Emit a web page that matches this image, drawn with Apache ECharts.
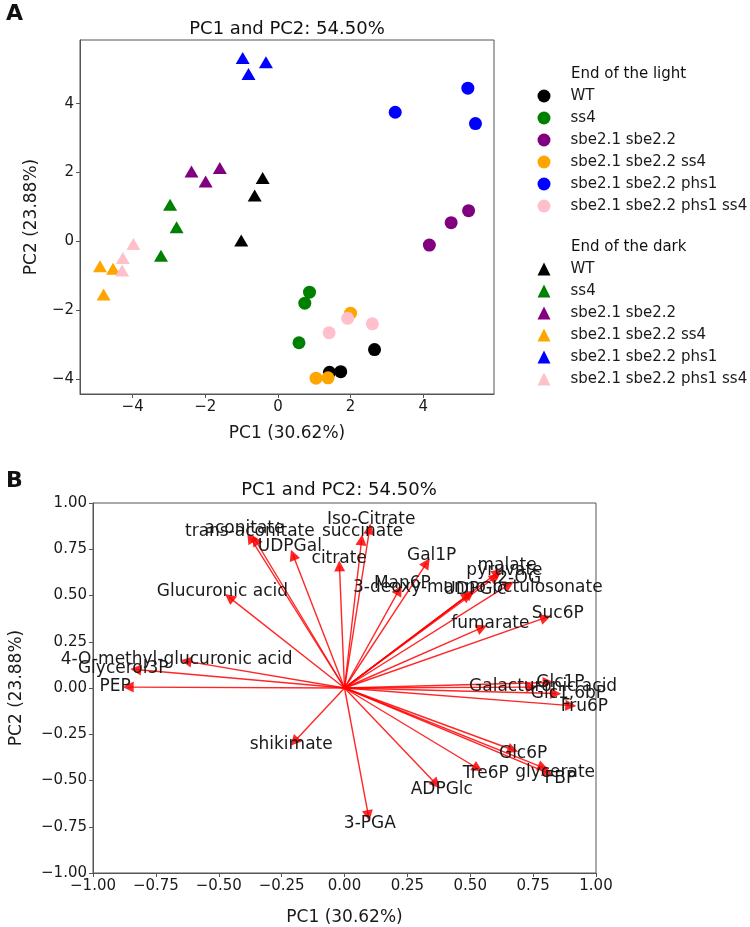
<!DOCTYPE html>
<html>
<head>
<meta charset="utf-8">
<script src="https://cdn.jsdelivr.net/npm/echarts@6/dist/echarts.min.js"></script>
<style>
html, body { margin: 0; padding: 0; background: #fff; }
#main { width: 750px; height: 927px; }
</style>
</head>
<body>
<div id="main"></div>
<script>
// panel A: PCA scores, 3 replicates per genotype
var genotypes = ['WT', 'ss4', 'sbe2.1 sbe2.2', 'sbe2.1 sbe2.2 ss4', 'sbe2.1 sbe2.2 phs1', 'sbe2.1 sbe2.2 phs1 ss4'];
var genotypeColors = ['#000000', '#008000', '#800080', '#ffa500', '#0000ff', '#ffc0cb'];

// end of the light (circles)
var lightPC1 = [[2.66, 1.73, 1.42], [0.87, 0.74, 0.58], [4.17, 4.77, 5.25], [2.00, 1.05, 1.38], [3.23, 5.23, 5.44], [1.41, 1.92, 2.60]];
var lightPC2 = [[-3.15, -3.79, -3.81], [-1.48, -1.80, -2.95], [-0.11, 0.54, 0.89], [-2.09, -3.98, -3.97], [3.75, 4.45, 3.42], [-2.66, -2.24, -2.40]];
// end of the dark (triangles)
var darkPC1 = [[-0.42, -0.64, -1.01], [-2.97, -2.79, -3.22], [-2.38, -1.60, -1.99], [-4.90, -4.54, -4.80], [-0.97, -0.33, -0.81], [-3.98, -4.27, -4.29]];
var darkPC2 = [[1.84, 1.33, 0.02], [1.06, 0.41, -0.42], [2.03, 2.13, 1.74], [-0.73, -0.80, -1.55], [5.33, 5.20, 4.86], [-0.08, -0.49, -0.85]];

var scoreTicks = [-4, -2, 0, 2, 4];

// panel B: loadings
var metabolites = ['trans-aconitate', 'aconitate', 'UDPGal', 'Iso-Citrate', 'succinate', 'citrate', 'Gal1P',
  'Glucuronic acid', 'Man6P', '3-deoxy-manno-octulosonate', 'UDPGlc', 'malate', 'pyruvate', '2-OG', 'fumarate',
  'Suc6P', '4-O-methyl-glucuronic acid', 'Glycerol3P', 'PEP', 'Galacturonic acid', 'Glc1P', 'Glc1,6bP', 'Fru6P',
  'shikimate', 'Glc6P', 'glycerate', 'FBP', 'Tre6P', 'ADPGlc', '3-PGA'];
var loadPC1 = [-0.355, -0.375, -0.205, 0.100, 0.068, -0.020, 0.327,
  -0.458, 0.217, 0.500, 0.489, 0.610, 0.600, 0.655, 0.547,
  0.800, -0.630, -0.830, -0.860, 0.745, 0.810, 0.840, 0.900,
  -0.200, 0.670, 0.790, 0.810, 0.530, 0.365, 0.095];
var loadPC2 = [0.800, 0.813, 0.720, 0.860, 0.800, 0.660, 0.676,
  0.490, 0.530, 0.510, 0.500, 0.625, 0.600, 0.560, 0.326,
  0.380, 0.145, 0.100, 0.005, 0.005, 0.030, -0.030, -0.095,
  -0.290, -0.335, -0.430, -0.460, -0.435, -0.520, -0.690];

var font = 'DejaVu Sans';
var spine = '#555';
var txt = '#1a1a1a';

function minus(s) { return String(s).replace('-', '\u2212'); }

function axisBase(name, gap) {
  return {
    type: 'value',
    name: name,
    nameLocation: 'middle',
    nameGap: gap,
    nameTextStyle: { fontFamily: font, fontSize: 17, color: txt },
    axisLine: { show: true, onZero: false, lineStyle: { color: spine } },
    splitLine: { show: false }
  };
}

var series = [];
genotypes.forEach(function (g, i) {
  series.push({
    name: 'light|' + g,
    type: 'scatter',
    xAxisIndex: 0, yAxisIndex: 0,
    symbol: 'circle',
    symbolSize: 13,
    itemStyle: { color: genotypeColors[i], opacity: 1 },
    data: lightPC1[i].map(function (x, j) { return [x, lightPC2[i][j]]; })
  });
});
genotypes.forEach(function (g, i) {
  series.push({
    name: 'dark|' + g,
    type: 'scatter',
    xAxisIndex: 0, yAxisIndex: 0,
    symbol: 'triangle',
    symbolSize: [14, 12],
    itemStyle: { color: genotypeColors[i], opacity: 1 },
    data: darkPC1[i].map(function (x, j) { return [x, darkPC2[i][j]]; })
  });
});

// arrows from the origin
series.push({
  type: 'lines',
  coordinateSystem: 'cartesian2d',
  xAxisIndex: 1, yAxisIndex: 1,
  symbol: ['none', 'triangle'],
  symbolSize: 11,
  lineStyle: { color: '#ff0000', width: 1.4, opacity: 0.85 },
  itemStyle: { color: '#ff0000' },
  silent: true,
  data: metabolites.map(function (m, i) {
    return { coords: [[0, 0], [loadPC1[i], loadPC2[i]]] };
  })
});
// metabolite names just past the arrow heads
series.push({
  type: 'scatter',
  xAxisIndex: 1, yAxisIndex: 1,
  symbolSize: 0,
  silent: true,
  z: 5,
  itemStyle: { color: '#000', opacity: 1 },
  label: {
    show: true, position: 'inside', formatter: '{b}',
    fontFamily: font, fontSize: 17, color: txt, opacity: 1,
    textBorderWidth: 0, textShadowBlur: 0
  },
  data: metabolites.map(function (m, i) {
    return { name: m, value: [loadPC1[i] * 1.06, loadPC2[i] * 1.06] };
  })
});

function legendFor(prefix, icon, top) {
  return {
    orient: 'vertical',
    left: 537.5,
    top: top,
    padding: 0,
    icon: icon,
    itemWidth: 13,
    itemHeight: 13,
    itemGap: 7,
    selectedMode: false,
    textStyle: { fontFamily: font, fontSize: 15, color: txt, padding: [0, 0, 0, 15] },
    formatter: function (n) { return n.split('|')[1]; },
    data: genotypes.map(function (g) { return prefix + '|' + g; })
  };
}

var tickLabelA = { fontFamily: font, fontSize: 15, color: txt, formatter: minus };
var tickLabelB = {
  fontFamily: font, fontSize: 15, color: txt,
  formatter: function (v) { return minus(v.toFixed(2)); }
};

var xA = axisBase('PC1 (30.62%)', 31);
xA.gridIndex = 0; xA.min = -5.45; xA.max = 5.95;
xA.axisTick = { customValues: scoreTicks, length: 4, lineStyle: { color: spine } };
xA.axisLabel = Object.assign({ customValues: scoreTicks, margin: 6 }, tickLabelA);

var yA = axisBase('PC2 (23.88%)', 40);
yA.gridIndex = 0; yA.min = -4.44; yA.max = 5.85;
yA.axisTick = { customValues: scoreTicks, length: 4, lineStyle: { color: spine } };
yA.axisLabel = Object.assign({ customValues: scoreTicks, margin: 6 }, tickLabelA);

var xB = axisBase('PC1 (30.62%)', 36);
xB.gridIndex = 1; xB.min = -1; xB.max = 1; xB.interval = 0.25;
xB.axisTick = { length: 4, lineStyle: { color: spine } };
xB.axisLabel = Object.assign({ margin: 6 }, tickLabelB);

var yB = axisBase('PC2 (23.88%)', 68);
yB.gridIndex = 1; yB.min = -1; yB.max = 1; yB.interval = 0.25;
yB.axisTick = { length: 4, lineStyle: { color: spine } };
yB.axisLabel = Object.assign({ margin: 6 }, tickLabelB);

function label(text, x, y, size, weight, align) {
  return {
    type: 'text', x: x, y: y,
    style: {
      text: text, fill: '#111', font: (weight || 'normal') + ' ' + size + 'px "' + font + '"',
      textAlign: align || 'left', textVerticalAlign: 'middle'
    }
  };
}

var option = {
  backgroundColor: '#fff',
  animation: false,
  grid: [
    { left: 80, top: 40, width: 414, height: 354, show: true, borderColor: spine, borderWidth: 1, backgroundColor: '#fff' },
    { left: 82, top: 503, width: 514, height: 375, show: true, borderColor: spine, borderWidth: 1, backgroundColor: '#fff' }
  ],
  xAxis: [xA, xB],
  yAxis: [yA, yB],
  legend: [legendFor('light', 'circle', 88.5), legendFor('dark', 'triangle', 261.5)],
  graphic: [
    label('A', 6, 14, 22, 'bold'),
    label('PC1 and PC2: 54.50%', 287, 29, 18, 'normal', 'center'),
    label('End of the light', 571, 74, 15),
    label('End of the dark', 571, 247, 15),
    label('B', 6, 481, 22, 'bold'),
    label('PC1 and PC2: 54.50%', 339, 490, 18, 'normal', 'center')
  ],
  series: series
};

var chart = echarts.init(document.getElementById('main'), null, { renderer: 'canvas' });
chart.setOption(option);
</script>
</body>
</html>
